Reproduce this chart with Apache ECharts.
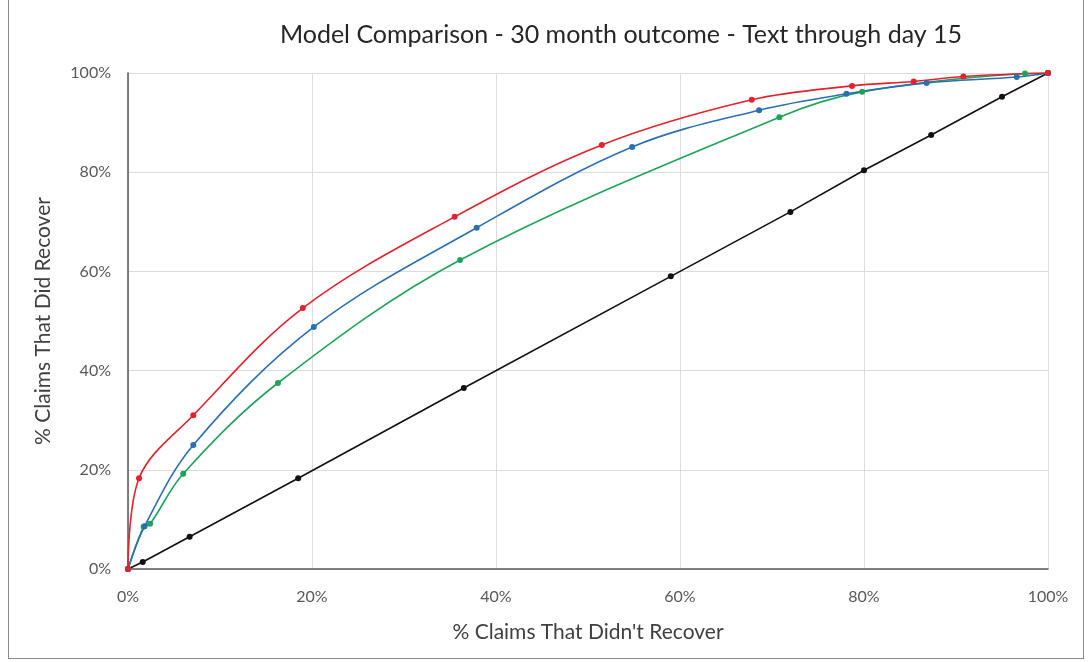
<!DOCTYPE html>
<html><head><meta charset="utf-8">
<script src="https://cdn.jsdelivr.net/npm/echarts@6/dist/echarts.min.js"></script>
<style>
html,body{margin:0;padding:0;background:#fff;}
#frame{position:absolute;left:8px;top:0;width:1076px;height:659px;border:1px solid #8c8c8c;border-top:none;box-sizing:border-box;}
#c{position:absolute;left:0;top:0;width:1088px;height:662px;}
</style></head>
<body>
<div id="frame"></div>
<div id="c"></div>
<script>
var titleText = "Model Comparison - 30 month outcome - Text through day 15";
var xAxisName = "% Claims That Didn't Recover";
var yAxisName = "% Claims That Did Recover";
var tickValues = [0, 20, 40, 60, 80, 100];

var redX   = [0, 1.2, 7.1, 19.0, 35.5, 51.5, 67.8, 78.7, 85.4, 90.8, 100];
var redY   = [0, 18.3, 31.0, 52.6, 71.0, 85.5, 94.6, 97.4, 98.3, 99.3, 100];
var blueX  = [0, 1.8, 7.1, 20.2, 37.9, 54.8, 68.6, 78.1, 86.8, 96.6, 100];
var blueY  = [0, 8.6, 25.0, 48.8, 68.8, 85.1, 92.5, 95.8, 98.0, 99.2, 100];
var greenX = [0, 1.7, 2.4, 6.0, 16.3, 36.1, 70.8, 79.8, 97.5, 100];
var greenY = [0, 8.5, 9.1, 19.2, 37.5, 62.3, 91.1, 96.2, 99.9, 100];
var blackX = [0, 1.6, 6.7, 18.5, 36.5, 59.0, 72.0, 80.0, 87.3, 95.0, 100];
var blackY = [0, 1.4, 6.5, 18.3, 36.5, 59.0, 72.0, 80.4, 87.5, 95.2, 100];

function pairs(xs, ys){ return xs.map(function(x,i){ return [x, ys[i]]; }); }

function mk(name, xs, ys, color, smooth){
  return {
    name: name, type: 'line', data: pairs(xs, ys), smooth: smooth,
    symbol: 'circle', symbolSize: 6,
    lineStyle: {color: color, width: 1.6},
    itemStyle: {color: color},
    xAxisIndex: 0, yAxisIndex: 0, z: 3
  };
}

var chart = echarts.init(document.getElementById('c'));
var font = 'Lato, "Open Sans", sans-serif';
chart.setOption({
  animation: false,
  title: {text: titleText, left: 621, textAlign: 'center', top: 22, padding: 0,
    textStyle: {fontFamily: font, fontSize: 25, fontWeight: 'normal', color: '#262626'}},
  grid: {left: 128, right: 40, top: 73, bottom: 93},
  xAxis: [{
    type: 'value', min: 0, max: 100, interval: 20,
    name: xAxisName, nameLocation: 'middle', nameGap: 53,
    nameTextStyle: {fontFamily: font, fontSize: 21, color: '#404040'},
    axisLine: {show: true, lineStyle: {color: '#d9d9d9'}},
    axisTick: {show: false},
    axisLabel: {formatter: '{value}%', fontFamily: font, fontSize: 16, color: '#595959', margin: 20},
    splitLine: {show: true, lineStyle: {color: '#dcdcdc', width: 1}}
  },{
    type: 'value', min: 0, max: 100, position: 'top',
    axisLine: {show: true, lineStyle: {color: '#595959', width: 1.5}},
    axisTick: {show: false}, axisLabel: {show: false}, splitLine: {show: false}
  }],
  yAxis: [{
    type: 'value', min: 0, max: 100, interval: 20,
    name: yAxisName, nameLocation: 'middle', nameGap: 74, nameRotate: 90,
    nameTextStyle: {fontFamily: font, fontSize: 21, color: '#404040'},
    axisLine: {show: true, lineStyle: {color: '#d9d9d9'}},
    axisTick: {show: false},
    axisLabel: {formatter: '{value}%', fontFamily: font, fontSize: 16, color: '#595959', margin: 17},
    splitLine: {show: true, lineStyle: {color: '#dcdcdc', width: 1}}
  },{
    type: 'value', min: 0, max: 100, position: 'right',
    axisLine: {show: true, lineStyle: {color: '#595959', width: 1.5}},
    axisTick: {show: false}, axisLabel: {show: false}, splitLine: {show: false}
  }],
  series: [
    mk('Black', blackX, blackY, '#111111', false),
    mk('Green', greenX, greenY, '#1fa35a', 0.35),
    mk('Blue', blueX, blueY, '#2a6fb0', 0.35),
    mk('Red', redX, redY, '#e2222c', 0.35)
  ]
});
</script>
</body></html>
